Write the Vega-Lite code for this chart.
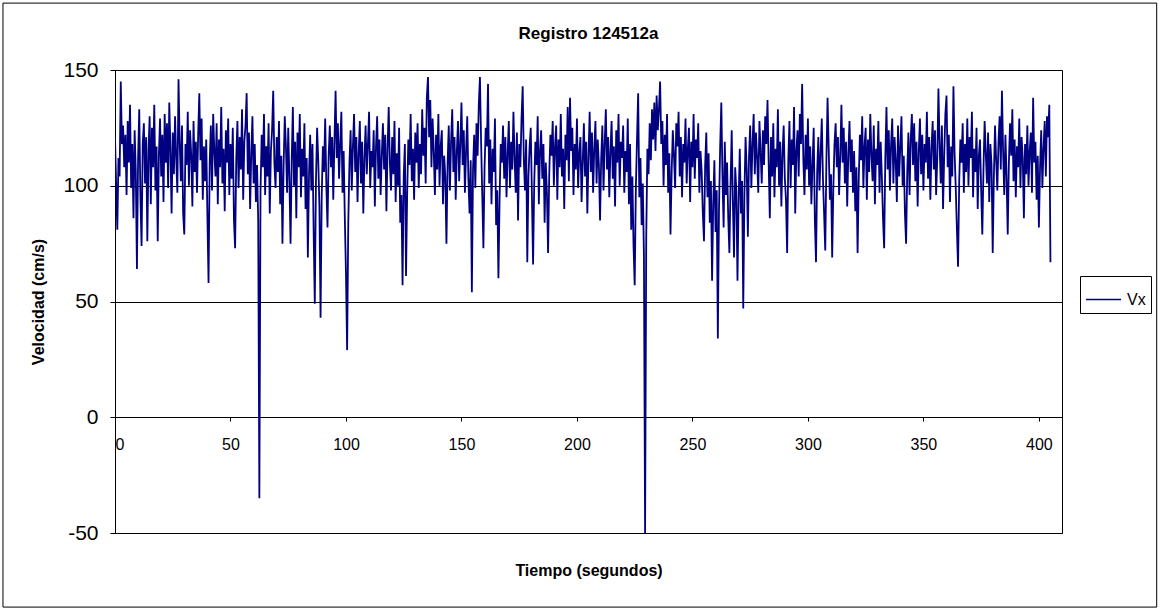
{
"$schema":"https://vega.github.io/schema/vega-lite/v6.json",
"width":947,"height":463,
"autosize":{"type":"none"},
"padding":{"left":115,"top":70,"right":98,"bottom":77},
"background":"white",
"title":{"text":"Registro 124512a","font":"Liberation Sans","fontSize":17,"fontWeight":"bold","anchor":"middle","frame":"group","offset":-40,"color":"black"},
"config":{"font":"Liberation Sans","view":{"stroke":"black","strokeWidth":1}},
"datasets":{"vx":[
{"t":0,"v":121},{"t":0.5,"v":100},{"t":1,"v":81},{"t":1.5,"v":112},{"t":2,"v":104},{"t":2.5,"v":145},{"t":3,"v":118},{"t":3.5,"v":126},{"t":4,"v":108},{"t":4.5,"v":122},{"t":5,"v":96},{"t":5.5,"v":128},{"t":6,"v":110},{"t":6.5,"v":135},{"t":7,"v":99},{"t":7.5,"v":118},{"t":8,"v":86},{"t":8.5,"v":124},{"t":9,"v":106},{"t":9.5,"v":64},
{"t":10,"v":112},{"t":10.5,"v":133},{"t":11,"v":95},{"t":11.5,"v":74},{"t":12,"v":118},{"t":12.5,"v":127},{"t":13,"v":101},{"t":13.5,"v":121},{"t":14,"v":76},{"t":14.5,"v":115},{"t":15,"v":130},{"t":15.5,"v":92},{"t":16,"v":125},{"t":16.5,"v":108},{"t":17,"v":135},{"t":17.5,"v":98},{"t":18,"v":117},{"t":18.5,"v":76},{"t":19,"v":113},{"t":19.5,"v":129},
{"t":20,"v":104},{"t":20.5,"v":122},{"t":21,"v":93},{"t":21.5,"v":131},{"t":22,"v":110},{"t":22.5,"v":127},{"t":23,"v":99},{"t":23.5,"v":136},{"t":24,"v":116},{"t":24.5,"v":88},{"t":25,"v":123},{"t":25.5,"v":105},{"t":26,"v":130},{"t":26.5,"v":112},{"t":27,"v":97},{"t":27.5,"v":146},{"t":28,"v":119},{"t":28.5,"v":102},{"t":29,"v":126},{"t":29.5,"v":88},
{"t":30,"v":79},{"t":30.5,"v":118},{"t":31,"v":109},{"t":31.5,"v":132},{"t":32,"v":100},{"t":32.5,"v":124},{"t":33,"v":113},{"t":33.5,"v":91},{"t":34,"v":128},{"t":34.5,"v":106},{"t":35,"v":119},{"t":35.5,"v":97},{"t":36,"v":122},{"t":36.5,"v":140},{"t":37,"v":111},{"t":37.5,"v":129},{"t":38,"v":94},{"t":38.5,"v":117},{"t":39,"v":102},{"t":39.5,"v":120},
{"t":40,"v":87},{"t":40.5,"v":58},{"t":41,"v":110},{"t":41.5,"v":126},{"t":42,"v":98},{"t":42.5,"v":131},{"t":43,"v":115},{"t":43.5,"v":104},{"t":44,"v":127},{"t":44.5,"v":92},{"t":45,"v":120},{"t":45.5,"v":108},{"t":46,"v":134},{"t":46.5,"v":101},{"t":47,"v":116},{"t":47.5,"v":89},{"t":48,"v":124},{"t":48.5,"v":110},{"t":49,"v":129},{"t":49.5,"v":96},
{"t":50,"v":118},{"t":50.5,"v":103},{"t":51,"v":125},{"t":51.5,"v":85},{"t":52,"v":73},{"t":52.5,"v":112},{"t":53,"v":128},{"t":53.5,"v":99},{"t":54,"v":121},{"t":54.5,"v":107},{"t":55,"v":133},{"t":55.5,"v":94},{"t":56,"v":119},{"t":56.5,"v":126},{"t":57,"v":140},{"t":57.5,"v":105},{"t":58,"v":123},{"t":58.5,"v":90},{"t":59,"v":114},{"t":59.5,"v":130},
{"t":60,"v":101},{"t":60.5,"v":118},{"t":61,"v":93},{"t":61.5,"v":109},{"t":62,"v":85},{"t":62.5,"v":-35},{"t":63,"v":98},{"t":63.5,"v":122},{"t":64,"v":108},{"t":64.5,"v":131},{"t":65,"v":96},{"t":65.5,"v":117},{"t":66,"v":104},{"t":66.5,"v":127},{"t":67,"v":88},{"t":67.5,"v":115},{"t":68,"v":124},{"t":68.5,"v":141},{"t":69,"v":110},{"t":69.5,"v":99},
{"t":70,"v":121},{"t":70.5,"v":106},{"t":71,"v":128},{"t":71.5,"v":92},{"t":72,"v":113},{"t":72.5,"v":75},{"t":73,"v":109},{"t":73.5,"v":130},{"t":74,"v":117},{"t":74.5,"v":97},{"t":75,"v":125},{"t":75.5,"v":103},{"t":76,"v":75},{"t":76.5,"v":111},{"t":77,"v":134},{"t":77.5,"v":100},{"t":78,"v":119},{"t":78.5,"v":86},{"t":79,"v":123},{"t":79.5,"v":108},
{"t":80,"v":131},{"t":80.5,"v":95},{"t":81,"v":116},{"t":81.5,"v":104},{"t":82,"v":127},{"t":82.5,"v":90},{"t":83,"v":112},{"t":83.5,"v":69},{"t":84,"v":105},{"t":84.5,"v":122},{"t":85,"v":98},{"t":85.5,"v":118},{"t":86,"v":80},{"t":86.5,"v":49},{"t":87,"v":102},{"t":87.5,"v":125},{"t":88,"v":111},{"t":88.5,"v":91},{"t":89,"v":43},{"t":89.5,"v":96},
{"t":90,"v":117},{"t":90.5,"v":106},{"t":91,"v":129},{"t":91.5,"v":100},{"t":92,"v":82},{"t":92.5,"v":113},{"t":93,"v":126},{"t":93.5,"v":108},{"t":94,"v":121},{"t":94.5,"v":94},{"t":95,"v":119},{"t":95.5,"v":141},{"t":96,"v":112},{"t":96.5,"v":127},{"t":97,"v":103},{"t":97.5,"v":118},{"t":98,"v":132},{"t":98.5,"v":97},{"t":99,"v":115},{"t":99.5,"v":86},
{"t":100,"v":62},{"t":100.5,"v":29},{"t":101,"v":84},{"t":101.5,"v":110},{"t":102,"v":124},{"t":102.5,"v":98},{"t":103,"v":117},{"t":103.5,"v":131},{"t":104,"v":106},{"t":104.5,"v":121},{"t":105,"v":93},{"t":105.5,"v":114},{"t":106,"v":128},{"t":106.5,"v":101},{"t":107,"v":119},{"t":107.5,"v":88},{"t":108,"v":112},{"t":108.5,"v":126},{"t":109,"v":105},{"t":109.5,"v":118},
{"t":110,"v":132},{"t":110.5,"v":99},{"t":111,"v":115},{"t":111.5,"v":108},{"t":112,"v":124},{"t":112.5,"v":91},{"t":113,"v":117},{"t":113.5,"v":130},{"t":114,"v":103},{"t":114.5,"v":120},{"t":115,"v":96},{"t":115.5,"v":113},{"t":116,"v":127},{"t":116.5,"v":107},{"t":117,"v":122},{"t":117.5,"v":89},{"t":118,"v":116},{"t":118.5,"v":134},{"t":119,"v":110},{"t":119.5,"v":98},
{"t":120,"v":121},{"t":120.5,"v":105},{"t":121,"v":128},{"t":121.5,"v":93},{"t":122,"v":114},{"t":122.5,"v":100},{"t":123,"v":125},{"t":123.5,"v":84},{"t":124,"v":96},{"t":124.5,"v":57},{"t":125,"v":104},{"t":125.5,"v":118},{"t":126,"v":61},{"t":126.5,"v":97},{"t":127,"v":120},{"t":127.5,"v":109},{"t":128,"v":131},{"t":128.5,"v":102},{"t":129,"v":116},{"t":129.5,"v":94},
{"t":130,"v":123},{"t":130.5,"v":110},{"t":131,"v":127},{"t":131.5,"v":99},{"t":132,"v":118},{"t":132.5,"v":105},{"t":133,"v":133},{"t":133.5,"v":113},{"t":134,"v":125},{"t":134.5,"v":101},{"t":135,"v":138},{"t":135.5,"v":147},{"t":136,"v":121},{"t":136.5,"v":137},{"t":137,"v":108},{"t":137.5,"v":129},{"t":138,"v":115},{"t":138.5,"v":96},{"t":139,"v":122},{"t":139.5,"v":107},
{"t":140,"v":131},{"t":140.5,"v":100},{"t":141,"v":117},{"t":141.5,"v":124},{"t":142,"v":92},{"t":142.5,"v":113},{"t":143,"v":104},{"t":143.5,"v":75},{"t":144,"v":110},{"t":144.5,"v":126},{"t":145,"v":98},{"t":145.5,"v":119},{"t":146,"v":133},{"t":146.5,"v":106},{"t":147,"v":121},{"t":147.5,"v":94},{"t":148,"v":115},{"t":148.5,"v":128},{"t":149,"v":102},{"t":149.5,"v":118},
{"t":150,"v":136},{"t":150.5,"v":109},{"t":151,"v":124},{"t":151.5,"v":97},{"t":152,"v":115},{"t":152.5,"v":130},{"t":153,"v":103},{"t":153.5,"v":88},{"t":154,"v":111},{"t":154.5,"v":54},{"t":155,"v":107},{"t":155.5,"v":122},{"t":156,"v":99},{"t":156.5,"v":127},{"t":157,"v":113},{"t":157.5,"v":135},{"t":158,"v":147},{"t":158.5,"v":119},{"t":159,"v":96},{"t":159.5,"v":73},
{"t":160,"v":108},{"t":160.5,"v":125},{"t":161,"v":117},{"t":161.5,"v":144},{"t":162,"v":101},{"t":162.5,"v":120},{"t":163,"v":92},{"t":163.5,"v":116},{"t":164,"v":106},{"t":164.5,"v":129},{"t":165,"v":83},{"t":165.5,"v":98},{"t":166,"v":60},{"t":166.5,"v":94},{"t":167,"v":118},{"t":167.5,"v":110},{"t":168,"v":126},{"t":168.5,"v":103},{"t":169,"v":121},{"t":169.5,"v":95},
{"t":170,"v":114},{"t":170.5,"v":128},{"t":171,"v":99},{"t":171.5,"v":119},{"t":172,"v":107},{"t":172.5,"v":132},{"t":173,"v":112},{"t":173.5,"v":97},{"t":174,"v":123},{"t":174.5,"v":85},{"t":175,"v":118},{"t":175.5,"v":108},{"t":176,"v":129},{"t":176.5,"v":143},{"t":177,"v":111},{"t":177.5,"v":98},{"t":178,"v":120},{"t":178.5,"v":67},{"t":179,"v":104},{"t":179.5,"v":117},
{"t":180,"v":125},{"t":180.5,"v":96},{"t":181,"v":66},{"t":181.5,"v":101},{"t":182,"v":119},{"t":182.5,"v":109},{"t":183,"v":130},{"t":183.5,"v":92},{"t":184,"v":115},{"t":184.5,"v":124},{"t":185,"v":103},{"t":185.5,"v":118},{"t":186,"v":84},{"t":186.5,"v":110},{"t":187,"v":97},{"t":187.5,"v":71},{"t":188,"v":105},{"t":188.5,"v":122},{"t":189,"v":113},{"t":189.5,"v":128},
{"t":190,"v":100},{"t":190.5,"v":117},{"t":191,"v":126},{"t":191.5,"v":94},{"t":192,"v":120},{"t":192.5,"v":108},{"t":193,"v":131},{"t":193.5,"v":104},{"t":194,"v":116},{"t":194.5,"v":90},{"t":195,"v":122},{"t":195.5,"v":111},{"t":196,"v":134},{"t":196.5,"v":102},{"t":197,"v":138},{"t":197.5,"v":115},{"t":198,"v":125},{"t":198.5,"v":96},{"t":199,"v":118},{"t":199.5,"v":107},
{"t":200,"v":129},{"t":200.5,"v":99},{"t":201,"v":114},{"t":201.5,"v":121},{"t":202,"v":93},{"t":202.5,"v":110},{"t":203,"v":127},{"t":203.5,"v":104},{"t":204,"v":119},{"t":204.5,"v":88},{"t":205,"v":113},{"t":205.5,"v":132},{"t":206,"v":106},{"t":206.5,"v":123},{"t":207,"v":97},{"t":207.5,"v":116},{"t":208,"v":128},{"t":208.5,"v":101},{"t":209,"v":120},{"t":209.5,"v":109},
{"t":210,"v":85},{"t":210.5,"v":112},{"t":211,"v":126},{"t":211.5,"v":98},{"t":212,"v":118},{"t":212.5,"v":133},{"t":213,"v":107},{"t":213.5,"v":121},{"t":214,"v":95},{"t":214.5,"v":115},{"t":215,"v":128},{"t":215.5,"v":103},{"t":216,"v":117},{"t":216.5,"v":91},{"t":217,"v":124},{"t":217.5,"v":110},{"t":218,"v":131},{"t":218.5,"v":100},{"t":219,"v":119},{"t":219.5,"v":112},
{"t":220,"v":126},{"t":220.5,"v":97},{"t":221,"v":115},{"t":221.5,"v":106},{"t":222,"v":129},{"t":222.5,"v":92},{"t":223,"v":118},{"t":223.5,"v":81},{"t":224,"v":104},{"t":224.5,"v":74},{"t":225,"v":57},{"t":225.5,"v":99},{"t":226,"v":120},{"t":226.5,"v":140},{"t":227,"v":95},{"t":227.5,"v":112},{"t":228,"v":83},{"t":228.5,"v":101},{"t":229,"v":70},{"t":229.5,"v":-50},
{"t":230,"v":78},{"t":230.5,"v":116},{"t":231,"v":105},{"t":231.5,"v":127},{"t":232,"v":111},{"t":232.5,"v":133},{"t":233,"v":120},{"t":233.5,"v":136},{"t":234,"v":115},{"t":234.5,"v":139},{"t":235,"v":124},{"t":235.5,"v":133},{"t":236,"v":145},{"t":236.5,"v":118},{"t":237,"v":128},{"t":237.5,"v":100},{"t":238,"v":122},{"t":238.5,"v":109},{"t":239,"v":131},{"t":239.5,"v":97},
{"t":240,"v":114},{"t":240.5,"v":79},{"t":241,"v":106},{"t":241.5,"v":124},{"t":242,"v":113},{"t":242.5,"v":99},{"t":243,"v":127},{"t":243.5,"v":117},{"t":244,"v":132},{"t":244.5,"v":104},{"t":245,"v":121},{"t":245.5,"v":95},{"t":246,"v":118},{"t":246.5,"v":110},{"t":247,"v":129},{"t":247.5,"v":101},{"t":248,"v":116},{"t":248.5,"v":125},{"t":249,"v":93},{"t":249.5,"v":119},
{"t":250,"v":108},{"t":250.5,"v":131},{"t":251,"v":103},{"t":251.5,"v":120},{"t":252,"v":112},{"t":252.5,"v":127},{"t":253,"v":97},{"t":253.5,"v":115},{"t":254,"v":106},{"t":254.5,"v":88},{"t":255,"v":76},{"t":255.5,"v":109},{"t":256,"v":123},{"t":256.5,"v":95},{"t":257,"v":114},{"t":257.5,"v":84},{"t":258,"v":102},{"t":258.5,"v":59},{"t":259,"v":92},{"t":259.5,"v":111},
{"t":260,"v":80},{"t":260.5,"v":98},{"t":261,"v":34},{"t":261.5,"v":90},{"t":262,"v":117},{"t":262.5,"v":136},{"t":263,"v":104},{"t":263.5,"v":82},{"t":264,"v":119},{"t":264.5,"v":96},{"t":265,"v":110},{"t":265.5,"v":86},{"t":266,"v":71},{"t":266.5,"v":101},{"t":267,"v":124},{"t":267.5,"v":93},{"t":268,"v":69},{"t":268.5,"v":108},{"t":269,"v":98},{"t":269.5,"v":59},
{"t":270,"v":94},{"t":270.5,"v":116},{"t":271,"v":88},{"t":271.5,"v":102},{"t":272,"v":47},{"t":272.5,"v":96},{"t":273,"v":121},{"t":273.5,"v":107},{"t":274,"v":78},{"t":274.5,"v":113},{"t":275,"v":126},{"t":275.5,"v":99},{"t":276,"v":118},{"t":276.5,"v":131},{"t":277,"v":105},{"t":277.5,"v":123},{"t":278,"v":112},{"t":278.5,"v":97},{"t":279,"v":128},{"t":279.5,"v":115},
{"t":280,"v":101},{"t":280.5,"v":124},{"t":281,"v":109},{"t":281.5,"v":130},{"t":282,"v":118},{"t":282.5,"v":137},{"t":283,"v":110},{"t":283.5,"v":86},{"t":284,"v":121},{"t":284.5,"v":104},{"t":285,"v":127},{"t":285.5,"v":95},{"t":286,"v":116},{"t":286.5,"v":108},{"t":287,"v":133},{"t":287.5,"v":100},{"t":288,"v":119},{"t":288.5,"v":91},{"t":289,"v":114},{"t":289.5,"v":126},
{"t":290,"v":103},{"t":290.5,"v":94},{"t":291,"v":71},{"t":291.5,"v":111},{"t":292,"v":128},{"t":292.5,"v":99},{"t":293,"v":120},{"t":293.5,"v":109},{"t":294,"v":134},{"t":294.5,"v":88},{"t":295,"v":115},{"t":295.5,"v":124},{"t":296,"v":104},{"t":296.5,"v":131},{"t":297,"v":118},{"t":297.5,"v":144},{"t":298,"v":112},{"t":298.5,"v":96},{"t":299,"v":122},{"t":299.5,"v":107},
{"t":300,"v":129},{"t":300.5,"v":100},{"t":301,"v":117},{"t":301.5,"v":92},{"t":302,"v":110},{"t":302.5,"v":125},{"t":303,"v":85},{"t":303.5,"v":67},{"t":304,"v":106},{"t":304.5,"v":121},{"t":305,"v":98},{"t":305.5,"v":114},{"t":306,"v":129},{"t":306.5,"v":103},{"t":307,"v":88},{"t":307.5,"v":72},{"t":308,"v":111},{"t":308.5,"v":138},{"t":309,"v":116},{"t":309.5,"v":94},
{"t":310,"v":105},{"t":310.5,"v":69},{"t":311,"v":99},{"t":311.5,"v":118},{"t":312,"v":127},{"t":312.5,"v":108},{"t":313,"v":121},{"t":313.5,"v":96},{"t":314,"v":113},{"t":314.5,"v":135},{"t":315,"v":110},{"t":315.5,"v":125},{"t":316,"v":101},{"t":316.5,"v":119},{"t":317,"v":91},{"t":317.5,"v":114},{"t":318,"v":128},{"t":318.5,"v":106},{"t":319,"v":120},{"t":319.5,"v":97},
{"t":320,"v":115},{"t":320.5,"v":89},{"t":321,"v":108},{"t":321.5,"v":71},{"t":322,"v":103},{"t":322.5,"v":122},{"t":323,"v":111},{"t":323.5,"v":130},{"t":324,"v":99},{"t":324.5,"v":117},{"t":325,"v":125},{"t":325.5,"v":94},{"t":326,"v":120},{"t":326.5,"v":106},{"t":327,"v":131},{"t":327.5,"v":113},{"t":328,"v":102},{"t":328.5,"v":126},{"t":329,"v":92},{"t":329.5,"v":116},
{"t":330,"v":109},{"t":330.5,"v":128},{"t":331,"v":97},{"t":331.5,"v":119},{"t":332,"v":104},{"t":332.5,"v":86},{"t":333,"v":73},{"t":333.5,"v":112},{"t":334,"v":134},{"t":334.5,"v":107},{"t":335,"v":124},{"t":335.5,"v":98},{"t":336,"v":118},{"t":336.5,"v":129},{"t":337,"v":101},{"t":337.5,"v":121},{"t":338,"v":111},{"t":338.5,"v":93},{"t":339,"v":126},{"t":339.5,"v":104},
{"t":340,"v":117},{"t":340.5,"v":130},{"t":341,"v":100},{"t":341.5,"v":113},{"t":342,"v":88},{"t":342.5,"v":75},{"t":343,"v":106},{"t":343.5,"v":123},{"t":344,"v":96},{"t":344.5,"v":120},{"t":345,"v":131},{"t":345.5,"v":109},{"t":346,"v":127},{"t":346.5,"v":102},{"t":347,"v":119},{"t":347.5,"v":91},{"t":348,"v":115},{"t":348.5,"v":129},{"t":349,"v":105},{"t":349.5,"v":122},
{"t":350,"v":98},{"t":350.5,"v":118},{"t":351,"v":110},{"t":351.5,"v":132},{"t":352,"v":103},{"t":352.5,"v":121},{"t":353,"v":94},{"t":353.5,"v":116},{"t":354,"v":128},{"t":354.5,"v":107},{"t":355,"v":124},{"t":355.5,"v":96},{"t":356,"v":112},{"t":356.5,"v":142},{"t":357,"v":118},{"t":357.5,"v":101},{"t":358,"v":126},{"t":358.5,"v":90},{"t":359,"v":113},{"t":359.5,"v":131},
{"t":360,"v":139},{"t":360.5,"v":108},{"t":361,"v":122},{"t":361.5,"v":93},{"t":362,"v":117},{"t":362.5,"v":104},{"t":363,"v":143},{"t":363.5,"v":114},{"t":364,"v":99},{"t":364.5,"v":81},{"t":365,"v":65},{"t":365.5,"v":102},{"t":366,"v":120},{"t":366.5,"v":110},{"t":367,"v":127},{"t":367.5,"v":97},{"t":368,"v":118},{"t":368.5,"v":106},{"t":369,"v":129},{"t":369.5,"v":100},
{"t":370,"v":121},{"t":370.5,"v":112},{"t":371,"v":132},{"t":371.5,"v":95},{"t":372,"v":116},{"t":372.5,"v":106},{"t":373,"v":125},{"t":373.5,"v":90},{"t":374,"v":113},{"t":374.5,"v":120},{"t":375,"v":98},{"t":375.5,"v":79},{"t":376,"v":107},{"t":376.5,"v":128},{"t":377,"v":114},{"t":377.5,"v":101},{"t":378,"v":123},{"t":378.5,"v":93},{"t":379,"v":118},{"t":379.5,"v":109},
{"t":380,"v":71},{"t":380.5,"v":104},{"t":381,"v":126},{"t":381.5,"v":111},{"t":382,"v":98},{"t":382.5,"v":119},{"t":383,"v":130},{"t":383.5,"v":107},{"t":384,"v":141},{"t":384.5,"v":115},{"t":385,"v":96},{"t":385.5,"v":122},{"t":386,"v":104},{"t":386.5,"v":79},{"t":387,"v":110},{"t":387.5,"v":127},{"t":388,"v":113},{"t":388.5,"v":133},{"t":389,"v":102},{"t":389.5,"v":120},
{"t":390,"v":95},{"t":390.5,"v":117},{"t":391,"v":108},{"t":391.5,"v":129},{"t":392,"v":99},{"t":392.5,"v":121},{"t":393,"v":112},{"t":393.5,"v":86},{"t":394,"v":118},{"t":394.5,"v":105},{"t":395,"v":126},{"t":395.5,"v":100},{"t":396,"v":115},{"t":396.5,"v":123},{"t":397,"v":97},{"t":397.5,"v":138},{"t":398,"v":110},{"t":398.5,"v":119},{"t":399,"v":94},{"t":399.5,"v":113},
{"t":400,"v":82},{"t":400.5,"v":108},{"t":401,"v":124},{"t":401.5,"v":99},{"t":402,"v":116},{"t":402.5,"v":128},{"t":403,"v":104},{"t":403.5,"v":130},{"t":404,"v":121},{"t":404.5,"v":135},{"t":405,"v":67}
]},
"layer":[
{"data":{"values":[{}]},
 "mark":{"type":"rect","fill":null,"stroke":"black","strokeWidth":1,"clip":false},
 "encoding":{"x":{"datum":-48.5,"type":"quantitative"},"x2":{"datum":451},"y":{"datum":178.9,"type":"quantitative"},"y2":{"datum":-82}}},
{"data":{"name":"vx"},
 "mark":{"type":"line","strokeWidth":1.8,"clip":true},
 "encoding":{
  "x":{"field":"t","type":"quantitative","scale":{"domain":[0,410],"nice":false,"zero":false},
   "axis":{"title":"Tiempo (segundos)","values":[0,50,100,150,200,250,300,350,400],"offset":-116,"domainColor":"black","tickColor":"black","tickSize":4,"labelFontSize":16,"labelColor":"black","labelPadding":15,"labelFont":"Liberation Sans","grid":false,"titleFontSize":16,"titleFontWeight":"bold","titleColor":"black","titlePadding":110,"titleFont":"Liberation Sans"}},
  "y":{"field":"v","type":"quantitative","scale":{"domain":[-50,150],"nice":false},
   "axis":{"title":"Velocidad (cm/s)","values":[-50,0,50,100,150],"labelExpr":"'' + datum.value","domainColor":"black","tickColor":"black","tickSize":5,"labelFontSize":21,"labelColor":"black","labelPadding":12,"labelFont":"Liberation Sans","grid":true,"gridColor":"black","gridWidth":1,"gridOpacity":1,"titleFontSize":16,"titleFontWeight":"bold","titleColor":"black","titlePadding":16,"titleFont":"Liberation Sans"}},
  "color":{"datum":"Vx","type":"nominal","scale":{"range":["#000080"]},
   "legend":{"title":null,"orient":"none","legendX":965,"legendY":206,"strokeColor":"black","padding":5,"symbolType":"M-1,0H1","symbolSize":1225,"symbolStrokeWidth":1.5,"labelFontSize":16,"labelFont":"Liberation Sans","labelColor":"black","labelOffset":5}}
 }}
]
}
